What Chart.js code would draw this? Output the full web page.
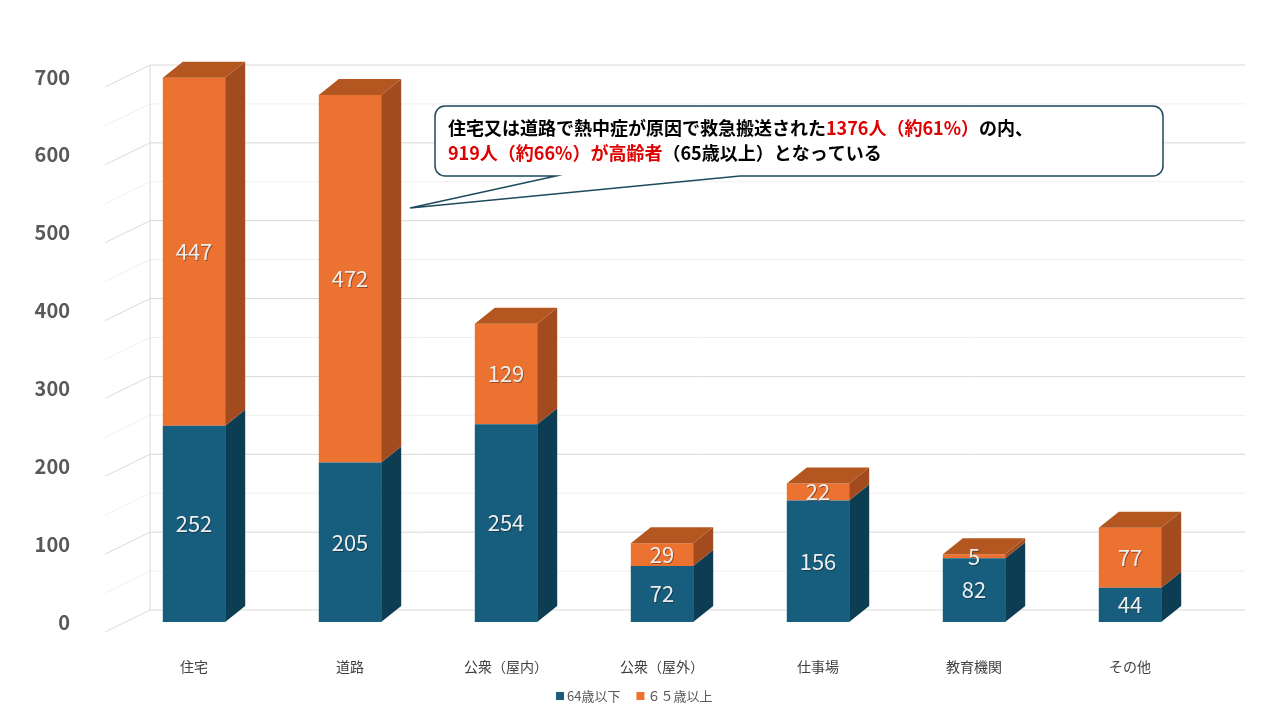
<!DOCTYPE html>
<html>
<head>
<meta charset="utf-8">
<script src="https://cdn.jsdelivr.net/npm/chart.js@4"></script>
<style>
  body { margin: 0; background: #fff; }
  #wrap { width: 1280px; height: 720px; position: relative; }
</style>
</head>
<body>
<div id="wrap"><canvas id="chart"></canvas></div>
<script>
// データ
var categories = ['住宅', '道路', '公衆（屋内）', '公衆（屋外）', '仕事場', '教育機関', 'その他'];
var under64 = [252, 205, 254, 72, 156, 82, 44];
var over65 = [447, 472, 129, 29, 22, 5, 77];
var seriesNames = ['64歳以下', '６５歳以上'];
var yTicks = [0, 100, 200, 300, 400, 500, 600, 700];

var FONT = '"Noto Sans CJK JP", "Noto Sans", sans-serif';
var frontColors = ['#175e7e', '#ec7232'];
var sideColors = ['#0d3d52', '#a14b1e'];
var topColor = '#b4561f';
var DX = 20, DY = -16;

// 奥行きのある目盛線
var gridPlugin = {
    id: 'grid3d',
    beforeDatasetsDraw: function (chart) {
        var ctx = chart.ctx, y = chart.scales.y;
        ctx.save();
        for (var v = 0; v <= 700; v += 50) {
            var py = y.getPixelForValue(v) + 10;
            ctx.strokeStyle = (v % 100 === 0) ? '#d9d9d9' : '#efefef';
            ctx.lineWidth = 1;
            ctx.beginPath();
            ctx.moveTo(105, py);
            ctx.lineTo(150, py - 22);
            ctx.lineTo(1245, py - 22);
            ctx.stroke();
        }
        ctx.beginPath();
        ctx.strokeStyle = '#d9d9d9';
        ctx.moveTo(150, y.getPixelForValue(0) - 12);
        ctx.lineTo(150, y.getPixelForValue(700) - 12);
        ctx.stroke();
        ctx.restore();
    },
    afterDatasetsDraw: function (chart) {
        var ctx = chart.ctx;
        ctx.save();
        chart.data.datasets.forEach(function (ds, di) {
            var meta = chart.getDatasetMeta(di);
            meta.data.forEach(function (bar) {
                var r = bar.x + bar.width / 2, l = bar.x - bar.width / 2;
                ctx.fillStyle = sideColors[di];
                ctx.beginPath();
                ctx.moveTo(r, bar.y);
                ctx.lineTo(r + DX, bar.y + DY);
                ctx.lineTo(r + DX, bar.base + DY);
                ctx.lineTo(r, bar.base);
                ctx.closePath();
                ctx.fill();
                if (di === chart.data.datasets.length - 1) {
                    ctx.fillStyle = topColor;
                    ctx.beginPath();
                    ctx.moveTo(l, bar.y);
                    ctx.lineTo(r, bar.y);
                    ctx.lineTo(r + DX, bar.y + DY);
                    ctx.lineTo(l + DX, bar.y + DY);
                    ctx.closePath();
                    ctx.fill();
                }
            });
        });
        // 値ラベル
        ctx.font = '22px ' + FONT;
        ctx.textAlign = 'center';
        ctx.textBaseline = 'middle';
        chart.data.datasets.forEach(function (ds, di) {
            var meta = chart.getDatasetMeta(di);
            meta.data.forEach(function (bar, i) {
                var cy = (bar.y + bar.base) / 2;
                ctx.fillStyle = 'rgba(0,0,0,0.35)';
                ctx.fillText(ds.data[i], bar.x + 1, cy + 1);
                ctx.fillStyle = '#eeeeee';
                ctx.fillText(ds.data[i], bar.x, cy);
            });
        });
        ctx.restore();
    },
    afterDraw: function (chart) {
        var ctx = chart.ctx;
        ctx.save();
        // 吹き出し
        var x0 = 435, y0 = 106, x1 = 1163, y1 = 176, rad = 10;
        ctx.beginPath();
        ctx.moveTo(x0 + rad, y0);
        ctx.lineTo(x1 - rad, y0);
        ctx.arcTo(x1, y0, x1, y0 + rad, rad);
        ctx.lineTo(x1, y1 - rad);
        ctx.arcTo(x1, y1, x1 - rad, y1, rad);
        ctx.lineTo(740, y1);
        ctx.lineTo(410, 208);
        ctx.lineTo(556, y1);
        ctx.lineTo(x0 + rad, y1);
        ctx.arcTo(x0, y1, x0, y1 - rad, rad);
        ctx.lineTo(x0, y0 + rad);
        ctx.arcTo(x0, y0, x0 + rad, y0, rad);
        ctx.closePath();
        ctx.fillStyle = '#fff';
        ctx.fill();
        ctx.strokeStyle = '#1d4a5c';
        ctx.lineWidth = 1.5;
        ctx.stroke();

        ctx.font = 'bold 18px ' + FONT;
        ctx.textAlign = 'left';
        ctx.textBaseline = 'middle';
        var lines = [
            [['住宅又は道路で熱中症が原因で救急搬送された', '#000'], ['1376人（約61%）', '#e00000'], ['の内、', '#000']],
            [['919人（約66%）が高齢者', '#e00000'], ['（65歳以上）となっている', '#000']]
        ];
        lines.forEach(function (parts, li) {
            var x = 448, y = 128 + li * 25;
            parts.forEach(function (p) {
                ctx.fillStyle = p[1];
                ctx.fillText(p[0], x, y);
                x += ctx.measureText(p[0]).width;
            });
        });

        // 凡例
        ctx.font = '13px ' + FONT;
        ctx.textBaseline = 'middle';
        var lx = 556, ly = 696;
        seriesNames.forEach(function (name, i) {
            ctx.fillStyle = frontColors[i];
            ctx.fillRect(lx, ly - 4, 8, 8);
            ctx.fillStyle = '#595959';
            ctx.fillText(name, lx + 11, ly);
            lx += 11 + ctx.measureText(name).width + 16;
        });
        ctx.restore();
    }
};

new Chart(document.getElementById('chart'), {
    type: 'bar',
    data: {
        labels: categories,
        datasets: [
            { label: seriesNames[0], data: under64, backgroundColor: frontColors[0] },
            { label: seriesNames[1], data: over65, backgroundColor: frontColors[1] }
        ]
    },
    options: {
        responsive: true,
        maintainAspectRatio: false,
        animation: false,
        layout: { padding: { top: 77, right: 72, left: 0, bottom: 0 } },
        datasets: { bar: { barPercentage: 0.4, categoryPercentage: 1 } },
        scales: {
            x: {
                stacked: true,
                grid: { display: false },
                border: { display: false },
                ticks: { color: '#404040', font: { size: 14, family: FONT }, padding: 28, maxRotation: 0 },
                afterFit: function (s) { s.height = 98; }
            },
            y: {
                stacked: true,
                min: 0,
                max: 700,
                grid: { display: false },
                border: { display: false },
                afterBuildTicks: function (s) { s.ticks = yTicks.map(function (v) { return { value: v }; }); },
                ticks: { color: '#595959', font: { size: 20, weight: 'bold', family: FONT }, padding: 38 },
                afterFit: function (s) { s.width = 116; }
            }
        },
        plugins: {
            legend: { display: false },
            tooltip: { enabled: false }
        }
    },
    plugins: [gridPlugin]
});
</script>
</body>
</html>
